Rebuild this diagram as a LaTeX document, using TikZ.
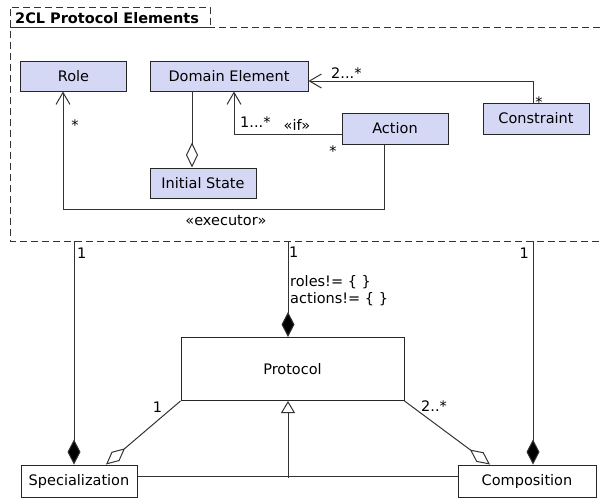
\documentclass[tikz,border=0pt]{standalone}
\usepackage{fontspec}
\setmainfont{DejaVu Sans}
\usetikzlibrary{arrows.meta, positioning}
\definecolor{lav}{RGB}{213,216,245}
\tikzset{
>={Straight Barb[length=12pt,width=14pt]}, % open uml navigation arrow
every node/.style={inner sep=0pt, font=\fontsize{14.5}{17}\selectfont},
elem/.style={draw=black!85, fill=lav, line width=1pt, minimum width=106pt, minimum height=30pt}, % element of the package
plain/.style={draw=black!85, fill=white, line width=1pt, minimum height=32pt},
conn/.style={line width=1pt, black!80},
frameline/.style={line width=1pt, black!80, dash pattern=on 7pt off 4pt},
aggr/.style={conn, {Diamond[open,length=25pt,width=12pt]}-}, % hollow diamond
compo/.style={conn, {Diamond[length=25pt,width=13pt,fill=black]}-}, % filled diamond
gen/.style={conn, -{Triangle[open,length=12pt,width=14pt]}},
}
\begin{document}
\begin{tikzpicture}[x=1pt,y=-1pt]
  \useasboundingbox (0,0) rectangle (600,498);
  % package frame
  \draw[frameline] (600,27) -- (10,27) -- (10,241) -- (600,241);
  \draw[frameline] (10,27) rectangle (210,7);
  \node[anchor=base west, font=\fontsize{14.5}{17}\selectfont\bfseries] (title) at (15,23) {2CL Protocol Elements};

  % elements
  \node[elem] (role) at (73.5,76) {Role};
  \node[elem, minimum width=158pt] (domain) at (229,76) {Domain Element};
  \node[elem] (init) at (203,183) {Initial State};
  \node[elem, minimum height=31pt] (action) at (395,128.5) {Action};
  \node[elem, minimum height=31pt] (constr) at (536,118.5) {Constraint};

  \draw[conn,->] ([xshift=-11pt]action.south) -- ++(0,65) -| ([xshift=-10.5pt]role.south);
  \draw[conn,->] ([yshift=-5.5pt]action.west) -| ([xshift=5pt]domain.south);
  \draw[conn,->] ([xshift=-3pt]constr.north) |- ([yshift=-5pt]domain.east);
  \draw[aggr] ([xshift=-11pt]init.north) -- ++(0,-77);

  \node[anchor=base] (rolem) at (75,130) {*};
  \node[anchor=base west] (domm) at (240,127) {1...*};
  \node[anchor=base] (iflbl) at (297,130) {«if»};
  \node[anchor=base] (actm) at (333,156) {*};
  \node[anchor=base west] (domc) at (331,78) {2...*};
  \node[anchor=base] (constrm) at (539,107) {*};
  \node[anchor=base] (exec) at (226,225) {«executor»};

  % protocol
  \node[plain, minimum width=223pt, minimum height=63pt] (proto) at (292.5,369) {Protocol};
  \node[plain, minimum width=116pt] (spec) at (79,481) {Specialization};
  \node[plain, minimum width=138pt] (comp) at (527,481) {Composition};

  \draw[compo] ([xshift=-5pt]spec.north) -- ++(0,-224);
  \draw[compo] ([xshift=-4.5pt]proto.north) -- ++(0,-96.5);
  \draw[compo] ([xshift=6pt]comp.north) -- ++(0,-224);
  \draw[aggr] ([xshift=27pt]spec.north) -- (proto.south west);
  \draw[aggr] ([xshift=-37pt]comp.north) -- (proto.south east);
  \draw[conn] ([yshift=4.5pt]spec.east) -- ([yshift=4.5pt]comp.west);
  \draw[gen] ([xshift=-4.5pt,yshift=-76.5pt]proto.south) -- ([xshift=-4.5pt]proto.south);

  \node[anchor=base west] (specm) at (77,258) {1};
  \node[anchor=base west] (protm) at (289,257) {1};
  \node[anchor=base west] (roles) at (290,286) {roles!= \{ \}};
  \node[anchor=base west] (acts) at (290,303) {actions!= \{ \}};
  \node[anchor=base east] (compm) at (529,258) {1};
  \node[anchor=base] (aggs) at (157.5,412) {1};
  \node[anchor=base west] (aggc) at (421,411) {2..*};
\end{tikzpicture}
\end{document}
